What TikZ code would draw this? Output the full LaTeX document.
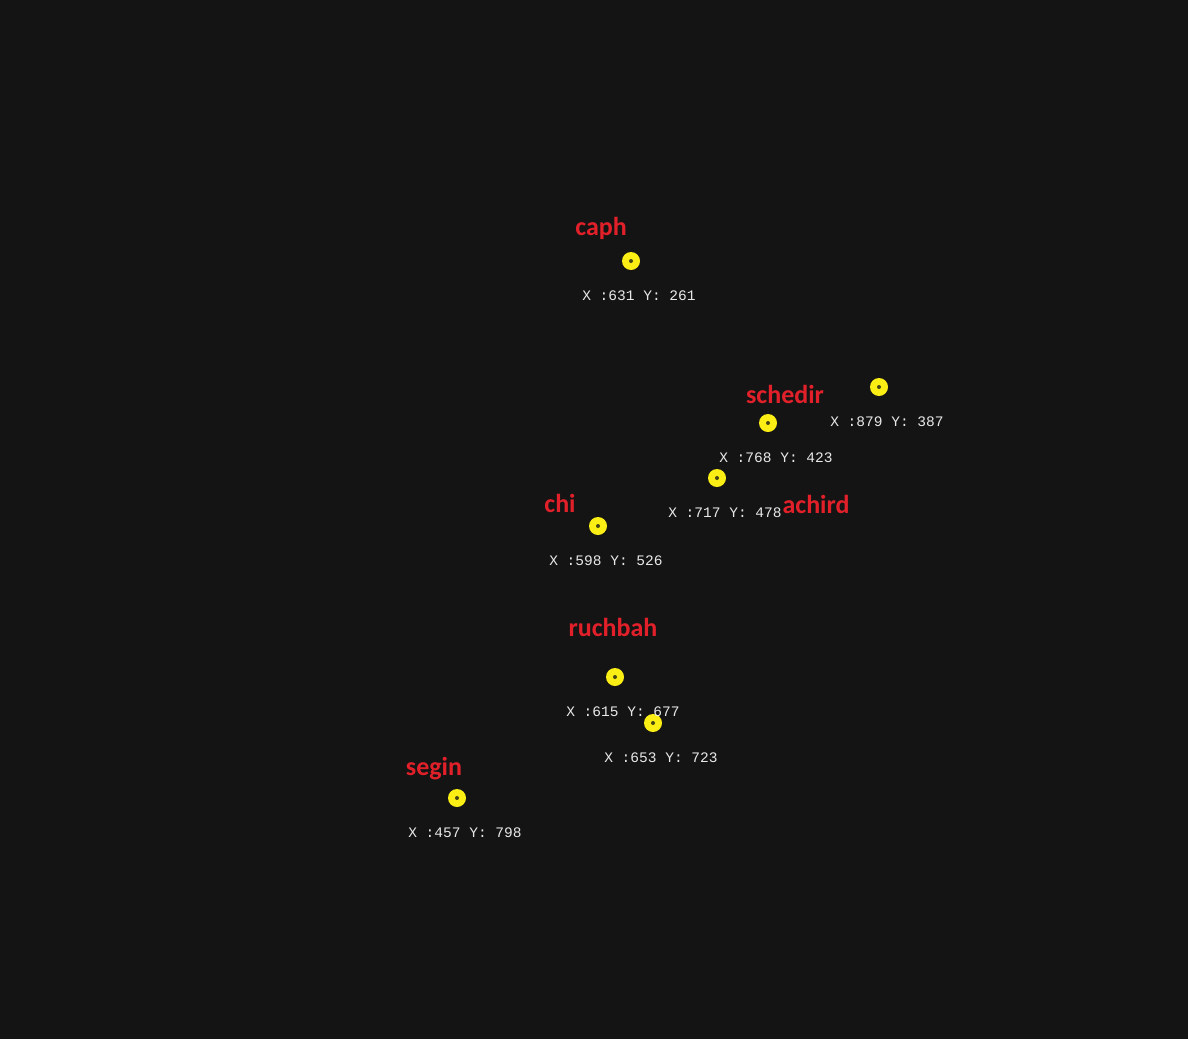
\documentclass[tikz,border=0pt]{standalone}
\usepackage{fontspec}
\setmainfont{Carlito}
\newfontfamily\namefont{Carlito}
\newfontfamily\coordfont{Liberation Mono}
\definecolor{bgc}{RGB}{20,20,20}
\definecolor{starred}{RGB}{226,32,42}
\definecolor{staryel}{RGB}{250,238,20}
\definecolor{stardot}{RGB}{70,70,20}
\definecolor{coordc}{RGB}{232,232,232}
\begin{document}
\begin{tikzpicture}[x=0.75pt,y=-0.75pt,
  starmark/.style={circle,fill=staryel,minimum size=13.5pt,inner sep=0pt,outer sep=0pt},
  stardotc/.style={circle,fill=stardot,minimum size=3pt,inner sep=0pt},
  namelbl/.style={text=starred,font=\namefont\bfseries\fontsize{19.5}{22}\selectfont,inner sep=0pt},
  coordlbl/.style={text=coordc,font=\coordfont\fontsize{10.9}{12}\selectfont,inner sep=0pt,anchor=west}]
\fill[bgc] (0,0) rectangle (1188,1039);
\useasboundingbox (0,0) rectangle (1188,1039);
% stars
\node[starmark] (s1) at (631,261) {}; \node[stardotc] (d1) at (s1) {};
\node[starmark] (s2) at (879,387) {}; \node[stardotc] (d2) at (s2) {};
\node[starmark] (s3) at (768,423) {}; \node[stardotc] (d3) at (s3) {};
\node[starmark] (s4) at (717,478) {}; \node[stardotc] (d4) at (s4) {};
\node[starmark] (s5) at (598,526) {}; \node[stardotc] (d5) at (s5) {};
\node[starmark] (s6) at (615,677) {}; \node[stardotc] (d6) at (s6) {};
\node[starmark] (s7) at (653,723) {}; \node[stardotc] (d7) at (s7) {};
\node[starmark] (s8) at (457,798) {}; \node[stardotc] (d8) at (s8) {};
% coordinates
\node[coordlbl] (c1) at (582,296) {X :631 Y: 261};
\node[coordlbl] (c2) at (830,422) {X :879 Y: 387};
\node[coordlbl] (c3) at (719,458) {X :768 Y: 423};
\node[coordlbl] (c4) at (668,513) {X :717 Y: 478};
\node[coordlbl] (c5) at (549,561) {X :598 Y: 526};
\node[coordlbl] (c6) at (566,712) {X :615 Y: 677};
\node[coordlbl] (c7) at (604,758) {X :653 Y: 723};
\node[coordlbl] (c8) at (408,833) {X :457 Y: 798};
% names
\node[namelbl] (n1) at (601,228) {caph};
\node[namelbl] (n2) at (785,394) {schedir};
\node[namelbl] (n3) at (816,504) {achird};
\node[namelbl] (n4) at (560,503) {chi};
\node[namelbl] (n5) at (613,627) {ruchbah};
\node[namelbl] (n6) at (434,769) {segin};
\end{tikzpicture}
\end{document}
